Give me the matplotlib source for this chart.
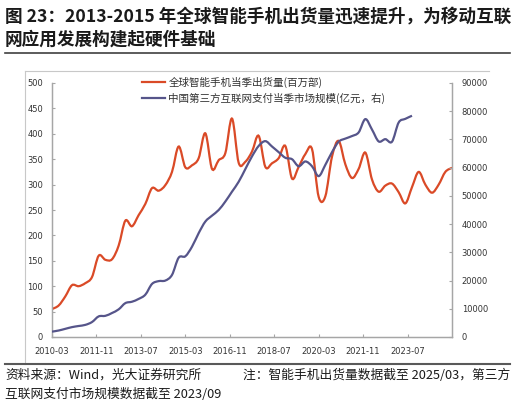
import numpy as np
import matplotlib
matplotlib.use("Agg")
import matplotlib.pyplot as plt
from matplotlib.path import Path
from matplotlib.patches import PathPatch
from matplotlib.lines import Line2D

plt.rcParams['font.family'] = ['Noto Sans CJK SC', 'DejaVu Sans']

# quarterly data, x = months since 2010-03
phone_ship = [55, 62, 80, 102,
              100, 106, 118, 160,
              152, 153, 180, 229,
              218, 240, 262, 293,
              288, 299, 325, 375,
              334, 338, 352, 401,
              331, 348, 362, 430,
              343, 345, 365, 396,
              335, 342, 352, 376,
              312, 335, 360, 370,
              276, 277, 355, 386,
              340, 313, 331, 363,
              310, 286, 298, 302,
              285, 263, 295, 325,
              300, 284, 300, 325,
              333]
pay_market = [1900, 2300, 2900, 3500,
              3900, 4300, 5300, 7300,
              7500, 8500, 9800, 12000,
              12500, 13500, 15000, 18800,
              19800, 20000, 22000, 28100,
              28600, 32000, 36800, 40900,
              43000, 45000, 48000, 51500,
              55000, 59500, 64000, 67700,
              69400, 67500, 65500, 63500,
              63000, 60500, 62200, 60500,
              57000, 61000, 65500, 69200,
              70300, 71200, 72500, 77200,
              73500, 69300, 70100, 69200,
              76000, 77300, 78400]
phone_months = [3 * i for i in range(len(phone_ship))]
pay_months = [3 * i for i in range(len(pay_market))]

tick_months = [0, 20, 40, 60, 80, 100, 120, 140, 160]
tick_labels = ["2010-03", "2011-11", "2013-07", "2015-03", "2016-11",
               "2018-07", "2020-03", "2021-11", "2023-07"]

label_phone = "全球智能手机当季出货量(百万部)"
label_pay = "中国第三方互联网支付当季市场规模(亿元，右)"

red = "#DA4A27"
blue = "#56558A"


def smooth_path(xs, ys):
    # Excel-like smoothed line: Catmull-Rom as cubic Bezier
    x = np.asarray(xs, float)
    y = np.asarray(ys, float)
    verts = [(x[0], y[0])]
    codes = [Path.MOVETO]
    n = len(x)
    for i in range(n - 1):
        p0 = i - 1 if i > 0 else i
        p3 = i + 2 if i + 2 < n else i + 1
        c1 = (x[i] + (x[i + 1] - x[p0]) / 6, y[i] + (y[i + 1] - y[p0]) / 6)
        c2 = (x[i + 1] - (x[p3] - x[i]) / 6, y[i + 1] - (y[p3] - y[i]) / 6)
        verts += [c1, c2, (x[i + 1], y[i + 1])]
        codes += [Path.CURVE4] * 3
    return Path(verts, codes)


fig = plt.figure(figsize=(5.16, 4.04), dpi=100)
W, H = 516, 404

ax = fig.add_axes([52 / W, 1 - 337 / H, 400 / W, 254 / H])
ax2 = ax.twinx()

ax.add_patch(PathPatch(smooth_path(phone_months, phone_ship), facecolor="none",
                       edgecolor=red, lw=1.6, transform=ax.transData, zorder=3))
ax2.add_patch(PathPatch(smooth_path(pay_months, pay_market), facecolor="none",
                        edgecolor=blue, lw=1.6, transform=ax2.transData, zorder=3))

ax.set_xlim(0, 180)
ax.set_ylim(0, 500)
ax2.set_ylim(0, 90000)
ax.set_yticks(range(0, 501, 50))
ax2.set_yticks(range(0, 90001, 10000))
ax.set_xticks(tick_months)
ax.set_xticklabels(tick_labels)

for a in (ax, ax2):
    for s in a.spines.values():
        s.set_color("#A6A6A6")
        s.set_linewidth(0.9)
    a.spines["top"].set_visible(False)
    a.tick_params(direction="in", length=2.5, width=0.8, color="#A6A6A6",
                  labelsize=6, labelcolor="#333333")
    for t in a.get_xticklabels() + a.get_yticklabels():
        t.set_family("DejaVu Sans")
ax.tick_params(axis="y", pad=6.5)
ax.tick_params(axis="x", pad=7)
ax2.tick_params(axis="y", pad=7)

handles = [Line2D([], [], color=red, lw=1.6), Line2D([], [], color=blue, lw=1.6)]
ax.legend(handles, [label_phone, label_pay], loc="upper left",
          bbox_to_anchor=(0.225, 1.025), frameon=False, fontsize=7.6,
          borderpad=0, borderaxespad=0, handlelength=2.2, handletextpad=0.3,
          labelspacing=0.45, labelcolor="#333333")

# title
fig.text(5 / W, 1 - 16 / H, "图 23：2013-2015 年全球智能手机出货量迅速提升，为移动互联",
         fontsize=12.7, fontweight="bold", va="center", ha="left", color="#1a1a1a")
fig.text(5 / W, 1 - 40 / H, "网应用发展构建起硬件基础",
         fontsize=12.7, fontweight="bold", va="center", ha="left", color="#1a1a1a")

# rules and chart frame
fig.add_artist(Line2D([5 / W, 510 / W], [1 - 53 / H] * 2, color="#404040", lw=1.2))
fig.add_artist(Line2D([25 / W, 489 / W], [1 - 71 / H] * 2, color="#C8C8C8", lw=0.8))
fig.add_artist(Line2D([25 / W] * 2, [1 - 71 / H, 1 - 364 / H], color="#C8C8C8", lw=0.8))
fig.add_artist(Line2D([5 / W, 510 / W], [1 - 364 / H] * 2, color="#595959", lw=1.5))

# footnote
fig.text(5 / W, 1 - 375 / H, "资料来源：Wind，光大证券研究所", fontsize=9.2,
         va="center", ha="left", color="#1a1a1a")
fig.text(510 / W, 1 - 375 / H, "注：智能手机出货量数据截至 2025/03，第三方", fontsize=9.2,
         va="center", ha="right", color="#1a1a1a")
fig.text(5 / W, 1 - 394 / H, "互联网支付市场规模数据截至 2023/09", fontsize=9.2,
         va="center", ha="left", color="#1a1a1a")

fig.savefig("out.png", dpi=100)
